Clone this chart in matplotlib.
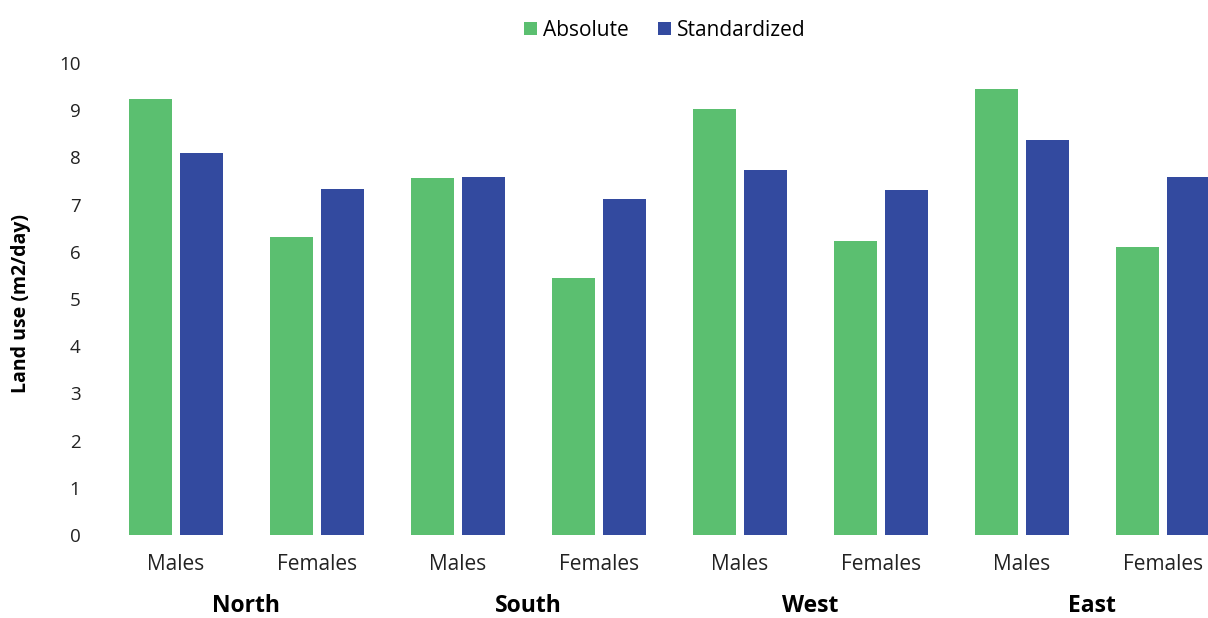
import matplotlib.pyplot as plt
import numpy as np

regions = ["North", "South", "West", "East"]
sexes = ["Males", "Females"]
absolute = [9.24, 6.31, 7.56, 5.44, 9.03, 6.23, 9.45, 6.10]
standardized = [8.09, 7.33, 7.58, 7.12, 7.73, 7.31, 8.37, 7.58]

green = "#5bbf70"
blue = "#334a9f"

plt.rcParams["font.family"] = ["Open Sans", "DejaVu Sans"]

fig = plt.figure(figsize=(12.08, 6.18), dpi=100)
ax = fig.add_axes([105.5 / 1208, 1 - 535 / 618, 1 - 105.5 / 1208, 472 / 618])

x = np.arange(len(absolute))
w = 0.305
ax.bar(x - 0.18, absolute, w, color=green, label="Absolute")
ax.bar(x + 0.18, standardized, w, color=blue, label="Standardized")

ax.set_xlim(-0.5, 7.32)
ax.set_ylim(0, 10)
ax.set_yticks(range(11))
ax.tick_params(axis="y", length=0, pad=18, labelsize=13.5, labelcolor="#222222")
ax.set_xticks(x)
ax.set_xticklabels(sexes * len(regions))
ax.tick_params(axis="x", length=0, pad=14, labelsize=15, labelcolor="#222222")
for s in ax.spines.values():
    s.set_visible(False)

# region names under each pair of categories
for i, r in enumerate(regions):
    ax.text(2 * i + 0.5, -1.5, r, ha="center", va="center",
            fontsize=16.5, fontweight="bold", transform=ax.transData)

ax.set_ylabel("Land use (m2/day)", fontsize=14, fontweight="bold")
ax.yaxis.set_label_coords(-74 / 1102.5, 0.49)

ax.legend(loc="center", bbox_to_anchor=(665 / 1208, 1 - 30 / 618),
          bbox_transform=fig.transFigure, ncol=2, frameon=False,
          fontsize=15, handlelength=0.6, handleheight=0.6,
          handletextpad=0.3, columnspacing=1.4)

fig.savefig("out.png", dpi=100)
